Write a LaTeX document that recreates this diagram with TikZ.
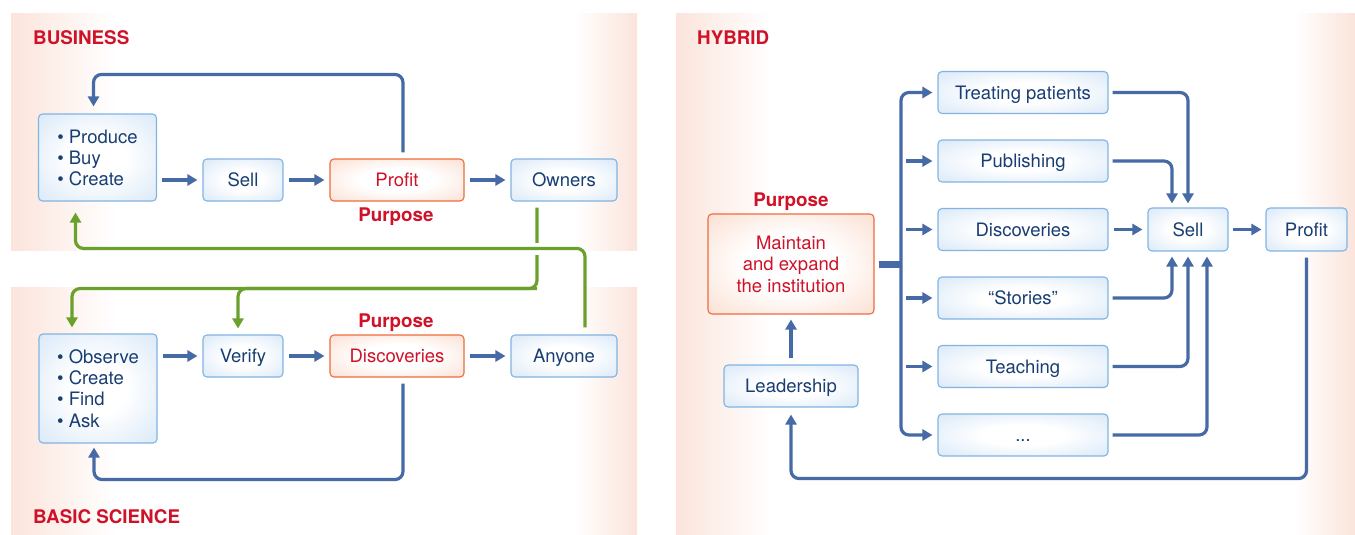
\documentclass[tikz,border=0pt]{standalone}
\usepackage{fontspec}
\setmainfont{TeX Gyre Heros}
\usetikzlibrary{arrows.meta,calc}
\definecolor{arrowblue}{RGB}{70,106,165}
\definecolor{boxedge}{RGB}{130,180,226}
\definecolor{boxfill}{RGB}{208,227,246}
\definecolor{navy}{RGB}{25,62,115}
\definecolor{orangeedge}{RGB}{238,108,60}
\definecolor{orangefill}{RGB}{250,212,194}
\definecolor{redtext}{RGB}{208,18,40}
\definecolor{greenline}{RGB}{106,160,44}
\definecolor{pinkbg}{RGB}{251,228,219}
\pgfdeclareradialshading{softblue}{\pgfpoint{0bp}{0bp}}{color(0bp)=(white); color(12bp)=(white); color(42bp)=(boxfill); color(72bp)=(boxfill)}
\pgfdeclareradialshading{softorange}{\pgfpoint{0bp}{0bp}}{color(0bp)=(white); color(14bp)=(white); color(44bp)=(orangefill); color(72bp)=(orangefill)}
\begin{document}
\begin{tikzpicture}[x=1pt,y=-1pt,
  every node/.style={font=\fontsize{18.5}{21}\selectfont},
  bluebox/.style={draw=boxedge, line width=1.1pt, rounded corners=4pt,
    shading=softblue, text=navy, inner sep=0pt},
  orbox/.style={draw=orangeedge, line width=1.1pt, rounded corners=4pt,
    shading=softorange, text=redtext, inner sep=0pt},
  onebox/.style={minimum height=42pt, text height=13.3pt, text depth=0pt},
  redlabel/.style={text=redtext, font=\fontsize{18.8}{21}\selectfont\bfseries, inner sep=0pt},
  arr/.style={draw=arrowblue, line width=3.2pt, -{Triangle[length=10pt,width=11pt]},
    rounded corners=8pt, shorten >=5pt, shorten <=5pt},
  arrboth/.style={draw=arrowblue, line width=3.2pt,
    {Triangle[length=10pt,width=11pt]}-{Triangle[length=10pt,width=11pt]},
    rounded corners=8pt, shorten >=5pt, shorten <=5pt},
  garr/.style={draw=greenline, line width=3.2pt, -{Triangle[length=10pt,width=11pt]},
    rounded corners=8pt},
]
\useasboundingbox (0,0) rectangle (1355,535);
\fill[white] (0,0) rectangle (1355,535);
% panels
\shade[left color=pinkbg, right color=white] (11,14) rectangle (115,250);
\shade[left color=white, right color=pinkbg] (575,14) rectangle (637,250);
\shade[left color=pinkbg, right color=white] (11,287) rectangle (115,535);
\shade[left color=white, right color=pinkbg] (575,287) rectangle (637,535);
\shade[left color=pinkbg, right color=white] (676,14) rectangle (770,535);
\shade[left color=white, right color=pinkbg] (1295,14) rectangle (1355,535);

% ---------- BUSINESS ----------
\node[redlabel, anchor=base west] (lbus) at (33,45) {BUSINESS};
\node[bluebox, minimum width=118pt, minimum height=87pt, align=left] (prod) at (97.5,157.5)
  {\textbullet\ Produce\\\textbullet\ Buy\\\textbullet\ Create};
\node[bluebox, onebox, minimum width=80pt] (sell1) at (243,180) {Sell};
\node[orbox, onebox, minimum width=134pt] (profit1) at (397,180) {Profit};
\node[redlabel, anchor=base] (pur1) at (396,221) {Purpose};
\node[bluebox, onebox, minimum width=106pt] (owners) at (564,180) {Owners};

% ---------- BASIC SCIENCE ----------
\node[redlabel, anchor=base west] (lsci) at (33,523) {BASIC SCIENCE};
\node[bluebox, minimum width=118pt, minimum height=109pt, align=left,
  font=\fontsize{18.5}{21.3}\selectfont] (obs) at (98,388.5)
  {\textbullet\ Observe\\\textbullet\ Create\\\textbullet\ Find\\\textbullet\ Ask};
\node[bluebox, onebox, minimum width=80pt] (verify) at (243,356) {Verify};
\node[orbox, onebox, minimum width=134pt] (disc1) at (397,356) {Discoveries};
\node[redlabel, anchor=base] (pur2) at (396,327) {Purpose};
\node[bluebox, onebox, minimum width=106pt] (anyone) at (564,356) {Anyone};

% business connectors
\draw[arr] (prod.east |- sell1.west) -- (sell1.west);
\draw[arr] (sell1) -- (profit1);
\draw[arr] (profit1) -- (owners);
\draw[arr, shorten <=6pt, shorten >=7pt] ([xshift=6pt]profit1.north) -- ++(0,-84) -| ([xshift=-4pt]prod.north);

% science connectors
\draw[arr] (obs.east |- verify.west) -- (verify.west);
\draw[arr] (verify) -- (disc1);
\draw[arr] (disc1) -- (anyone);
\draw[arr, shorten <=6pt, shorten >=4pt] ([xshift=6pt]disc1.south) -- ++(0,102) -| ([xshift=-4pt]obs.south);

% green connectors
\coordinate (gc) at ($([xshift=-27pt]owners.south)+(0,87)$);
\draw[garr, shorten <=6pt, shorten >=6pt] ([xshift=-27pt]owners.south) -- (gc) -| ([xshift=-26pt]obs.north);
\draw[garr, shorten >=6pt] (gc) -| ([xshift=-5pt]verify.north);
\fill[white] (533.5,243) rectangle (540.5,255);
\draw[garr, shorten <=7pt, shorten >=11pt] ([xshift=21pt]anyone.north) -- ++(0,-86) -| ([xshift=-22pt]prod.south);

% ---------- HYBRID ----------
\node[redlabel, anchor=base west] (lhyb) at (697,45) {HYBRID};
\node[redlabel, anchor=base] (pur3) at (791,206) {Purpose};
\node[orbox, minimum width=166pt, minimum height=100pt, align=center,
  font=\fontsize{18.5}{21.5}\selectfont] (maintain) at (791,264)
  {Maintain\\and expand\\the institution};
\node[bluebox, onebox, minimum width=134pt] (leader) at (791,386) {Leadership};

\node[bluebox, onebox, minimum width=170pt] (t1) at (1023,92.5) {Treating patients};
\node[bluebox, onebox, minimum width=170pt] (t2) at (1023,161) {Publishing};
\node[bluebox, onebox, minimum width=170pt] (t3) at (1023,229.5) {Discoveries};
\node[bluebox, onebox, minimum width=170pt] (t4) at (1023,298) {“Stories”};
\node[bluebox, onebox, minimum width=170pt] (t5) at (1023,366.5) {Teaching};
\node[bluebox, onebox, minimum width=170pt] (t6) at (1023,435) {...};

\node[bluebox, onebox, minimum width=80pt, minimum height=43pt] (sell2) at (1188,229.5) {Sell};
\node[bluebox, onebox, minimum width=81pt, minimum height=43pt] (profit2) at (1306.5,229.5) {Profit};

\coordinate (tr) at (901,264);
\draw[arr, shorten <=6pt, shorten >=5pt] (leader) -- (maintain);
\draw[draw=arrowblue, line width=7pt] ([xshift=4pt]maintain.east) -- (tr);
\draw[arrboth] (t6.west) -| (tr |- t1.west) -- (t1.west);
\foreach \i in {2,3,4,5} { \draw[arr] (tr |- t\i.west) -- (t\i.west); }

\draw[arr, shorten <=4pt, shorten >=4pt] (t1.east) -| (sell2.north);
\draw[arr, shorten <=4pt, shorten >=4pt] (t2.east) -| ([xshift=-16pt]sell2.north);
\draw[arr] (t3) -- (sell2);
\draw[arr, shorten <=4pt, shorten >=5pt] (t4.east) -| ([xshift=-16pt]sell2.south);
\draw[arr, shorten <=4pt, shorten >=5pt] (t5.east) -| (sell2.south);
\draw[arr, shorten <=4pt, shorten >=5pt] (t6.east) -| ([xshift=19pt]sell2.south);
\draw[arr, shorten <=4pt, shorten >=4pt] (sell2) -- (profit2);
\draw[arr, shorten <=6pt, shorten >=7pt] (profit2.south) -- ++(0,227) -| (leader.south);
\end{tikzpicture}
\end{document}
